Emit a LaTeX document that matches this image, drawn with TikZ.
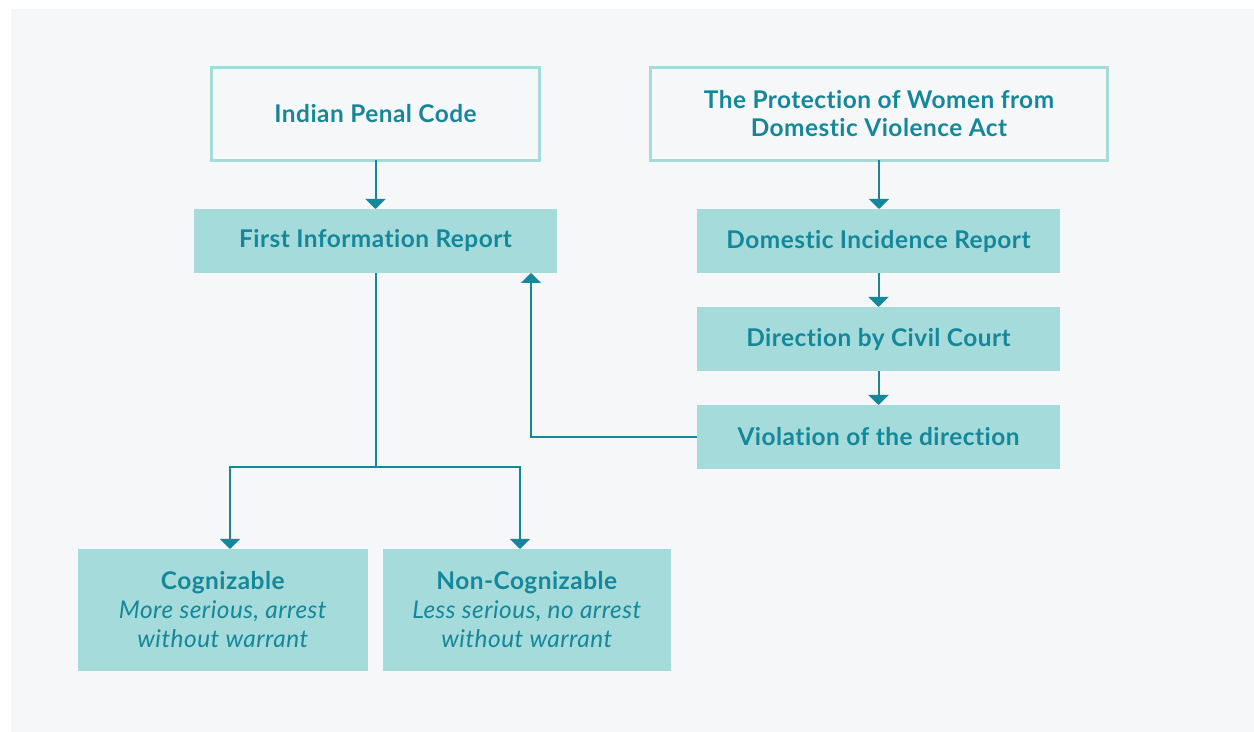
\documentclass[tikz,border=0pt]{standalone}
\usepackage{fontspec}
\setmainfont{Lato}[Ligatures=NoCommon,LetterSpace=2]
\usetikzlibrary{arrows.meta}
\definecolor{panel}{HTML}{F6F7F9}
\definecolor{boxfill}{HTML}{A6DBDB}
\definecolor{teal}{HTML}{15879A}

\begin{document}
\begin{tikzpicture}[x=0.5pt,y=-0.5pt,
  lawbox/.style={draw=boxfill,line width=1.5pt,fill=panel,outer sep=0pt,
    minimum width=164pt,minimum height=46.5pt,align=center,text=teal,
    font=\fontsize{12.2}{14}\selectfont\bfseries},
  stepbox/.style={fill=boxfill,outer sep=0pt,minimum width=181.5pt,
    minimum height=32pt,align=center,text=teal,
    font=\fontsize{12.2}{14}\selectfont\bfseries},
  kindbox/.style={fill=boxfill,outer sep=0pt,minimum height=61pt,
    align=center,text=teal,font=\fontsize{12.2}{14.5}\selectfont},
  link/.style={draw=teal,line width=1pt,
    -{Triangle[width=10pt,length=5pt]}}]
  \useasboundingbox (0,0) rectangle (1254,732);
  \fill[panel] (11,9) rectangle (1254,732);

  \node[lawbox] (ipc) at (375.5,114) {Indian Penal Code};
  \node[lawbox,minimum width=228.5pt] (pwdva) at (879,114)
    {The Protection of Women from\\Domestic Violence Act};
  \node[stepbox] (fir) at (375.5,241) {First Information Report};
  \node[stepbox] (dir) at (878.5,241) {Domestic Incidence Report};
  \node[stepbox] (court) at (878.5,339) {Direction by Civil Court};
  \node[stepbox] (viol) at (878.5,437) {Violation of the direction};
  \node[kindbox,minimum width=145pt] (cog) at (223,610)
    {\textbf{Cognizable}\\\textit{More serious, arrest}\\\textit{without warrant}};
  \node[kindbox,minimum width=144pt] (noncog) at (527,610)
    {\textbf{Non-Cognizable}\\\textit{Less serious, no arrest}\\\textit{without warrant}};

  \coordinate (split) at (375.5,467);
  \draw[link] (ipc) -- (fir);
  \draw[link] (pwdva) -- (pwdva |- dir.north);
  \draw[link] (dir) -- (court);
  \draw[link] (court) -- (viol);
  \draw[teal,line width=1pt] (fir) -- (split);
  \draw[link] (split) -| ([xshift=3.5pt]cog.north);
  \draw[link] (split) -| ([xshift=-3.5pt]noncog.north);
  \draw[link] (viol.west) -| ([xshift=-13pt]fir.south east);
\end{tikzpicture}
\end{document}
